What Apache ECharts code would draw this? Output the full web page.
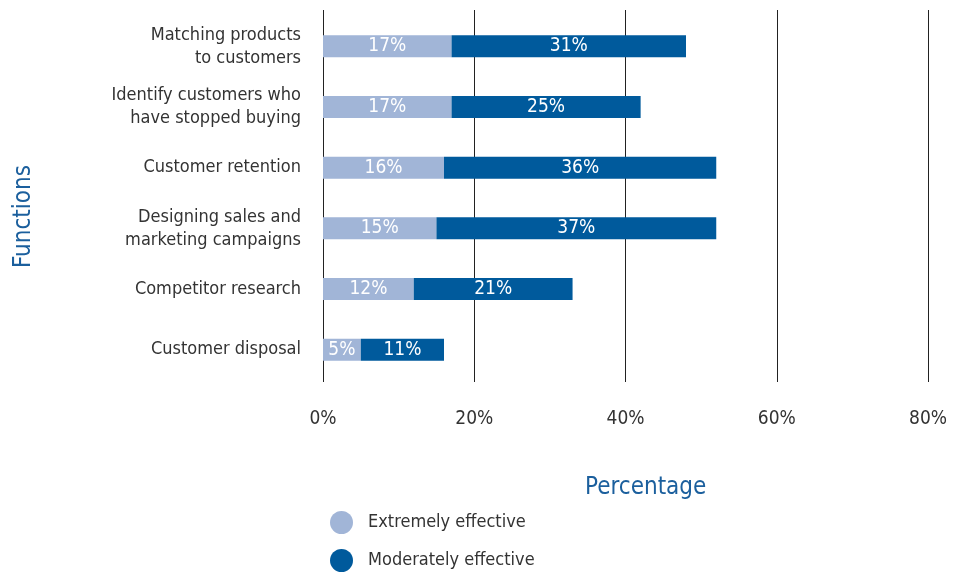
<!DOCTYPE html>
<html>
<head>
<meta charset="utf-8">
<script src="https://cdn.jsdelivr.net/npm/echarts@6/dist/echarts.min.js"></script>
<style>
  html, body { margin: 0; padding: 0; background: #fff; }
  #chart { width: 954px; height: 572px; }
</style>
</head>
<body>
<div id="chart"></div>
<script>
// Survey: how effective is data use for each business function
const categories = [
  'Matching products\nto customers',
  'Identify customers who\nhave stopped buying',
  'Customer retention',
  'Designing sales and\nmarketing campaigns',
  'Competitor research',
  'Customer disposal'
];
const extremelyEffective = [17, 17, 16, 15, 12, 5];
const moderatelyEffective = [31, 25, 36, 37, 21, 11];
const xTicks = [0, 20, 40, 60, 80];
const seriesNames = ['Extremely effective', 'Moderately effective'];

const FONT = '"Liberation Sans Narrow", "DejaVu Sans Condensed", "Roboto", sans-serif';
const LIGHT = '#a1b5d7';
const DARK = '#005a9c';
const TEXT = '#333';
const TITLE = '#1b5f9d';

const chart = echarts.init(document.getElementById('chart'));

const barLabel = {
  show: true,
  position: 'inside',
  color: '#fff',
  fontFamily: FONT,
  fontSize: 19,
  formatter: p => p.value + '%'
};

const xRange = { min: xTicks[0], max: xTicks[xTicks.length - 1], interval: 20 };

const legendText = { color: TEXT, fontFamily: FONT, fontSize: 18, padding: [0, 0, 0, 10] };

chart.setOption({
  animation: false,
  textStyle: { fontFamily: FONT },
  grid: [
    // bars
    { left: 323, right: 26, top: 16, bottom: 192 },
    // gridlines and percentage ticks
    { left: 323, right: 26, top: 10, bottom: 190 }
  ],
  xAxis: [
    {
      gridIndex: 0,
      type: 'value',
      ...xRange,
      show: false
    },
    {
      gridIndex: 1,
      type: 'value',
      ...xRange,
      axisLine: { show: false },
      axisTick: { show: false },
      splitLine: { show: true, lineStyle: { color: '#222', width: 1 } },
      axisLabel: {
        margin: 28,
        color: TEXT,
        fontFamily: FONT,
        fontSize: 19,
        formatter: v => v + '%'
      }
    }
  ],
  yAxis: [
    {
      gridIndex: 0,
      type: 'category',
      data: categories,
      inverse: true,
      axisLine: { show: false },
      axisTick: { show: false },
      axisLabel: {
        margin: 22,
        color: TEXT,
        fontFamily: FONT,
        fontSize: 18,
        lineHeight: 23,
        align: 'right'
      }
    },
    {
      gridIndex: 1,
      type: 'value',
      show: false
    }
  ],
  legend: [
    {
      left: 325,
      top: 506,
      icon: 'circle',
      itemWidth: 23,
      itemHeight: 23,
      textStyle: legendText,
      data: [seriesNames[0]]
    },
    {
      left: 325,
      top: 544,
      icon: 'circle',
      itemWidth: 23,
      itemHeight: 23,
      textStyle: legendText,
      data: [seriesNames[1]]
    }
  ],
  graphic: [
    {
      type: 'text',
      left: 585,
      top: 476,
      style: { text: 'Percentage', fill: TITLE, font: '24px ' + FONT }
    },
    {
      type: 'text',
      x: 12,
      y: 268,
      rotation: Math.PI / 2,
      style: { text: 'Functions', fill: TITLE, font: '24px ' + FONT }
    }
  ],
  series: [
    {
      name: seriesNames[0],
      type: 'bar',
      stack: 'total',
      xAxisIndex: 0,
      yAxisIndex: 0,
      barWidth: 22,
      itemStyle: { color: LIGHT },
      label: barLabel,
      data: extremelyEffective
    },
    {
      name: seriesNames[1],
      type: 'bar',
      stack: 'total',
      xAxisIndex: 0,
      yAxisIndex: 0,
      barWidth: 22,
      itemStyle: { color: DARK },
      label: barLabel,
      data: moderatelyEffective
    }
  ]
});
</script>
</body>
</html>
